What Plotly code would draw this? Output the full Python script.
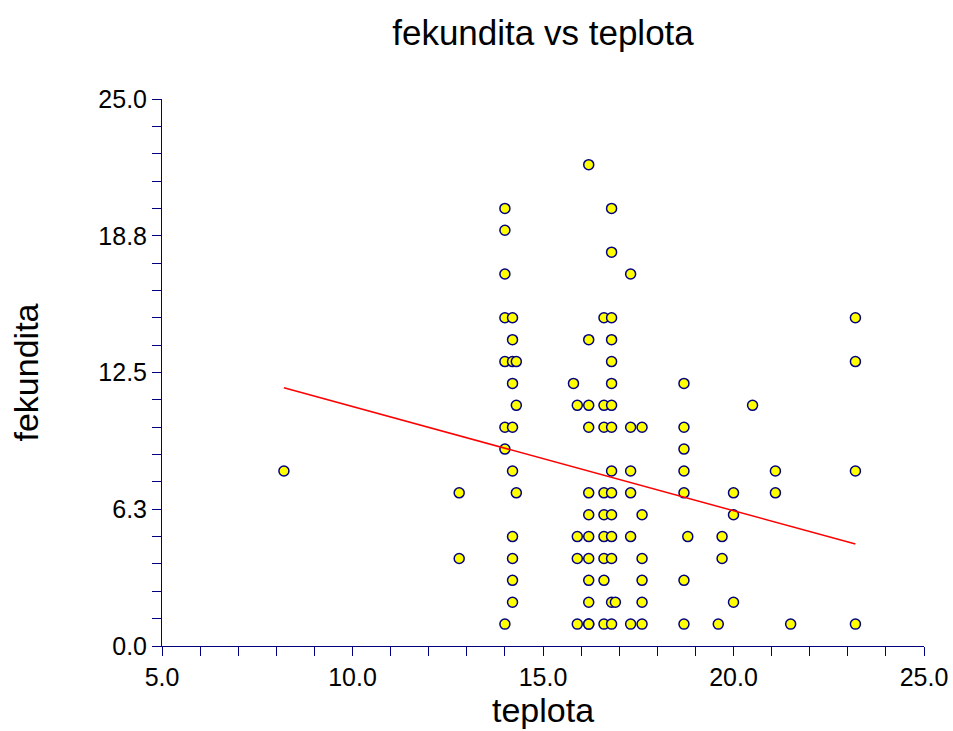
import plotly.graph_objects as go

# fekundita (y) rows and the teplota (x) values observed at each
rows = {
    1: [14.0, 15.9, 16.2, 16.2, 16.6, 16.8, 17.3, 17.6, 18.7, 19.6, 21.5, 23.2],
    2: [14.2, 16.2, 16.8, 16.9, 17.6, 20.0],
    3: [14.2, 16.2, 16.6, 17.6, 18.7],
    4: [12.8, 14.2, 15.9, 16.2, 16.6, 16.8, 17.6, 19.7],
    5: [14.2, 15.9, 16.2, 16.6, 16.8, 17.3, 18.8, 19.7],
    6: [16.2, 16.6, 16.8, 17.6, 20.0],
    7: [12.8, 14.3, 16.2, 16.6, 16.8, 17.3, 18.7, 20.0, 21.1],
    8: [8.2, 14.2, 16.8, 17.3, 18.7, 21.1, 23.2],
    9: [14.0, 18.7],
    10: [14.0, 14.2, 16.2, 16.6, 16.8, 17.3, 17.6, 18.7],
    11: [14.3, 15.9, 16.2, 16.6, 16.8, 20.5],
    12: [14.2, 15.8, 16.8, 18.7],
    13: [14.0, 14.2, 14.3, 16.8, 23.2],
    14: [14.2, 16.2, 16.8],
    15: [14.0, 14.2, 16.6, 16.8, 23.2],
    17: [14.0, 17.3],
    18: [16.8],
    19: [14.0],
    20: [14.0, 16.8],
    22: [16.2],
}

teplota = [x for yv, xs in rows.items() for x in xs]
fekundita = [yv for yv, xs in rows.items() for x in xs]

# regression line (end points)
fit_teplota = [8.2, 23.2]
fit_fekundita = [11.8, 4.66]

x_tickvals = list(range(5, 26))
x_ticktext = [f"{v:.1f}" if v % 5 == 0 else "" for v in x_tickvals]
y_tickvals = [i * 1.25 for i in range(21)]
y_labels = {0: "0.0", 4: "6.3", 8: "12.5", 12: "18.8", 16: "25.0"}
y_ticktext = [y_labels.get(i // 1, "") if i % 4 == 0 else "" for i in range(21)]
y_ticktext = [{0: "0.0", 5: "6.3", 10: "12.5", 15: "18.8", 20: "25.0"}.get(i, "") for i in range(21)]

NAVY = "#000080"
FONT = "Liberation Sans, Arial, sans-serif"

fig = go.Figure()
fig.add_trace(go.Scatter(
    x=teplota, y=fekundita, mode="markers",
    marker=dict(size=10, color="#FFFF00", line=dict(color=NAVY, width=1.5)),
    showlegend=False, cliponaxis=False,
))
fig.add_trace(go.Scatter(
    x=fit_teplota, y=fit_fekundita, mode="lines",
    line=dict(color="#FF0000", width=1.5),
    showlegend=False,
))

fig.update_layout(
    width=953, height=731,
    margin=dict(l=162, r=29, t=99, b=85, autoexpand=False),
    paper_bgcolor="white", plot_bgcolor="white",
    font=dict(family=FONT, color="black"),
    title=dict(text="fekundita vs teplota", x=0.5, xref="paper", xanchor="center",
               y=1 - 33 / 731, yref="container", yanchor="middle",
               font=dict(size=35, family=FONT, color="black")),
    xaxis=dict(range=[5, 25], tickvals=x_tickvals, ticktext=x_ticktext,
               showgrid=False, zeroline=False, showline=True, linecolor=NAVY, linewidth=1,
               ticks="outside", ticklen=9, tickcolor=NAVY, tickwidth=1,
               tickfont=dict(size=25, family=FONT, color="black"),
               title=dict(text="teplota", font=dict(size=34, family=FONT, color="black"), standoff=7),
               automargin=False),
    yaxis=dict(range=[0, 25], tickvals=y_tickvals, ticktext=y_ticktext,
               showgrid=False, zeroline=False, showline=True, linecolor=NAVY, linewidth=1,
               ticks="outside", ticklen=9, tickcolor=NAVY, tickwidth=1,
               tickfont=dict(size=25, family=FONT, color="black"),
               title=dict(text="fekundita", font=dict(size=34, family=FONT, color="black"), standoff=49),
               automargin=False),
)

fig.write_html("out.html")
